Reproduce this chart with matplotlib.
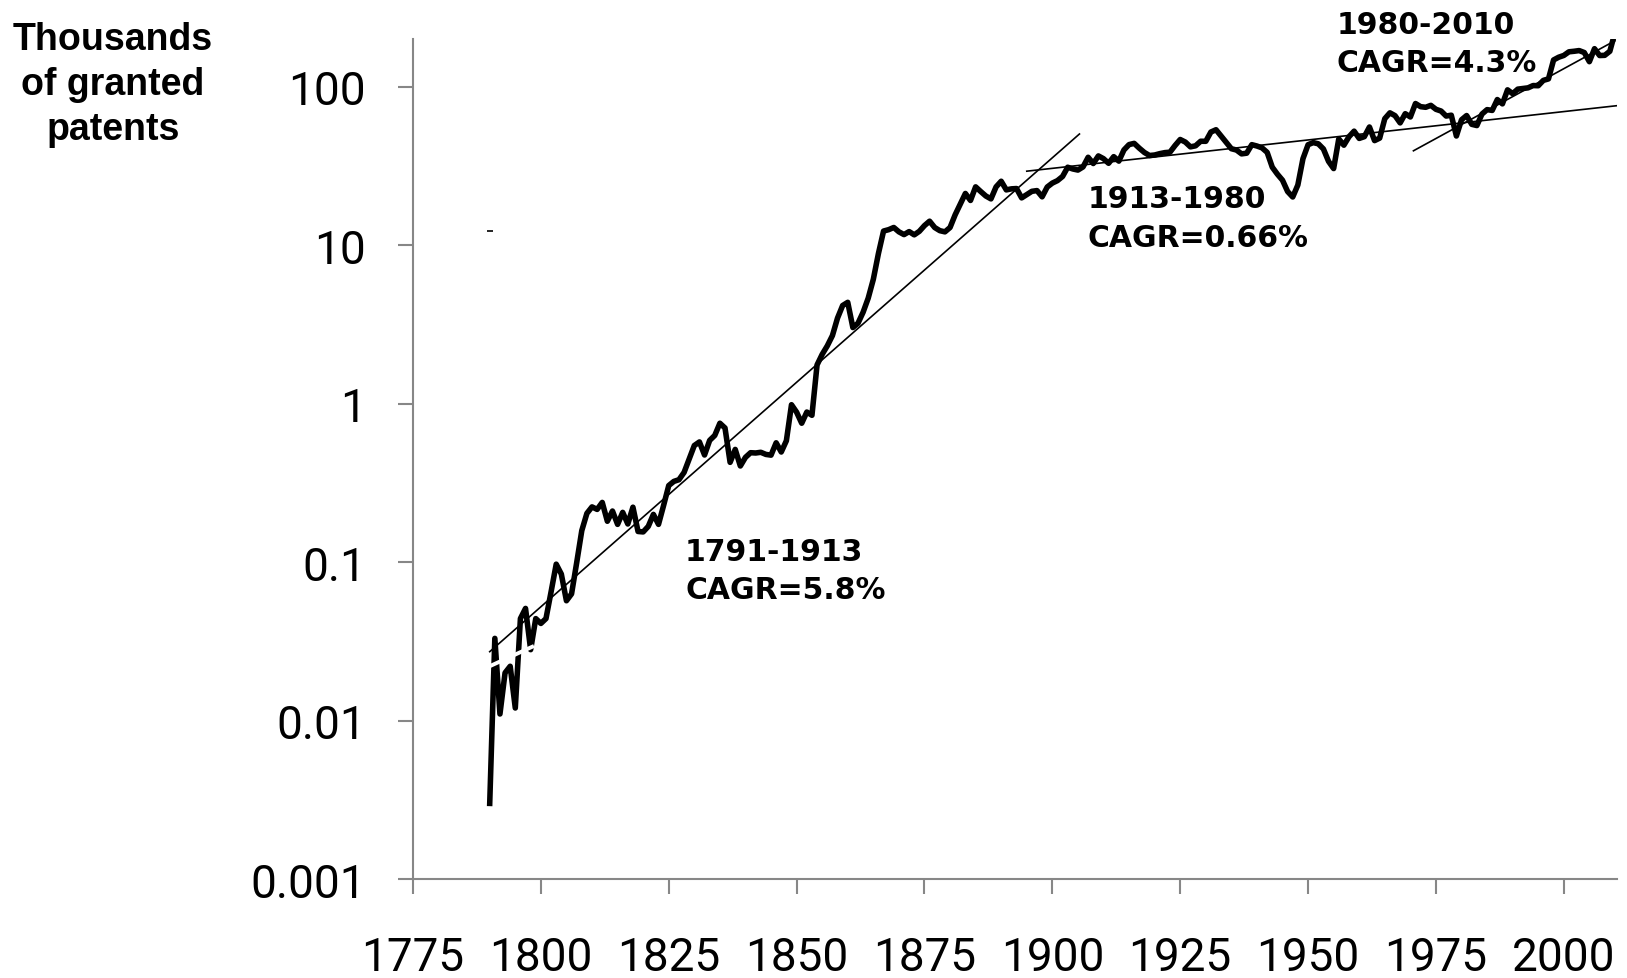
import numpy as np
import matplotlib
matplotlib.use("Agg")
import matplotlib.pyplot as plt
from matplotlib.ticker import FixedLocator, NullLocator

# Granted patents per year (thousands)
years = np.arange(1790, 2011)
patents = [
    0.003, 0.033, 0.011, 0.020, 0.022, 0.012, 0.044, 0.051, 0.028, 0.044,  # 1790s
    0.041, 0.044, 0.065, 0.097, 0.084, 0.057, 0.063, 0.099, 0.158, 0.203,  # 1800s
    0.223, 0.215, 0.238, 0.181, 0.210, 0.173, 0.206, 0.174, 0.222, 0.156,  # 1810s
    0.155, 0.168, 0.200, 0.173, 0.228, 0.304, 0.323, 0.331, 0.368, 0.447,  # 1820s
    0.544, 0.573, 0.474, 0.586, 0.630, 0.752, 0.702, 0.426, 0.514, 0.404,  # 1830s
    0.458, 0.490, 0.488, 0.493, 0.478, 0.473, 0.566, 0.495, 0.583, 0.984,  # 1840s
    0.883, 0.752, 0.885, 0.844, 1.755, 2.046, 2.315, 2.686, 3.467, 4.160,  # 1850s
    4.357, 3.020, 3.214, 3.773, 4.630, 6.088, 8.863, 12.277, 12.526, 12.931,  # 1860s
    12.137, 11.659, 12.180, 11.616, 12.230, 13.291, 14.169, 12.920, 12.345, 12.133,  # 1870s
    12.926, 15.548, 18.135, 21.196, 19.147, 23.331, 21.797, 20.429, 19.585, 23.324,  # 1880s
    25.313, 22.328, 22.661, 22.768, 19.875, 20.856, 21.867, 22.098, 20.188, 23.278,  # 1890s
    24.644, 25.546, 27.136, 31.029, 30.258, 29.775, 31.170, 35.859, 32.757, 36.574,  # 1900s
    35.141, 32.856, 36.198, 33.917, 39.892, 43.118, 43.892, 40.935, 38.452, 36.797,  # 1910s
    37.060, 37.798, 38.369, 38.616, 42.574, 46.432, 44.733, 41.717, 42.357, 45.267,  # 1920s
    45.226, 51.756, 53.504, 48.774, 44.420, 40.618, 39.831, 37.683, 38.061, 43.073,  # 1930s
    42.238, 41.109, 38.514, 31.054, 28.053, 25.695, 21.803, 20.139, 23.963, 35.131,  # 1940s
    43.040, 44.384, 43.616, 40.468, 33.809, 30.432, 46.817, 42.744, 48.330, 52.408,  # 1950s
    47.170, 48.368, 55.691, 45.679, 47.376, 62.857, 68.406, 65.652, 59.104, 67.559,  # 1960s
    64.427, 78.317, 74.810, 74.143, 76.278, 72.000, 70.226, 65.269, 66.102, 48.854,  # 1970s
    61.819, 65.771, 57.888, 56.860, 67.200, 71.661, 70.860, 82.952, 77.924, 95.537,  # 1980s
    90.365, 96.511, 97.444, 98.342, 101.676, 101.419, 109.645, 111.984, 147.517, 153.485,  # 1990s
    157.494, 166.036, 167.331, 169.023, 164.290, 143.806, 173.772, 157.282, 157.772, 167.349,  # 2000s
    219.614,
]

# Fitted trend lines (start, end) as drawn on the chart
trend_1791_1913_x = [1790.0, 1905.3]
trend_1791_1913_y = [0.0272, 50.3]
trend_1913_1980_x = [1895.0, 2010.4]
trend_1913_1980_y = [29.3, 75.9]
trend_1980_2010_x = [1970.6, 2010.0]
trend_1980_2010_y = [39.4, 195.0]

# white stroke crossing the early data and stray tick mark
gap_x = [1790.1, 1798.3]
gap_y = [0.0221, 0.0292]
stray_x = [1790.06]
stray_y = [12.3]

labels = ["1791-1913\nCAGR=5.8%", "1913-1980\nCAGR=0.66%", "1980-2010\nCAGR=4.3%"]
label_x = [1828.2, 1906.9, 1955.6]
label_y = [0.145, 24.3, 306.0]

xticks = list(range(1775, 2001, 25))
yticks = [0.001, 0.01, 0.1, 1, 10, 100]
yticklabels = ["0.001", "0.01", "0.1", "1", "10", "100"]

#%% Plot
fig = plt.figure(figsize=(16.27, 9.79), dpi=100)
ax = fig.add_axes([413 / 1627, 99 / 979, (1617 - 413) / 1627, (880 - 40) / 979])

ax.plot(years, patents, color="black", lw=4.0, solid_joinstyle="round", zorder=3)
for tx, ty in [(trend_1791_1913_x, trend_1791_1913_y),
               (trend_1913_1980_x, trend_1913_1980_y),
               (trend_1980_2010_x, trend_1980_2010_y)]:
    ax.plot(tx, ty, color="black", lw=1.2, zorder=4)
ax.plot(gap_x, gap_y, color="white", lw=2.8, zorder=5)
ax.plot(stray_x, stray_y, marker="_", color="black", ms=4, mew=1.2, ls="none")

for txt, x, y in zip(labels, label_x, label_y):
    ax.text(x, y, txt, fontsize=21.5, fontweight="bold", family="DejaVu Sans",
            ha="left", va="top", linespacing=1.42, clip_on=False, zorder=6)

ax.set_yscale("log")
ax.set_xlim(1775, 2010.4)
ax.set_ylim(0.001, 200)
ax.xaxis.set_major_locator(FixedLocator(xticks))
ax.set_xticklabels([str(t) for t in xticks])
ax.yaxis.set_major_locator(FixedLocator(yticks))
ax.yaxis.set_minor_locator(NullLocator())
ax.set_yticklabels(yticklabels)

for side in ["top", "right"]:
    ax.spines[side].set_visible(False)
for side in ["left", "bottom"]:
    ax.spines[side].set_color("#878787")
    ax.spines[side].set_linewidth(1.5)
ax.tick_params(axis="both", direction="out", length=11, width=1.5, color="#878787",
               labelsize=33, labelfontfamily="Roboto")
ax.tick_params(axis="x", pad=29)
ax.tick_params(axis="y", pad=23)

fig.text(113 / 1627, 1 - 22 / 979, "Thousands\nof granted\npatents", fontsize=27,
         fontweight="bold", family="Liberation Sans", ha="center", va="top",
         multialignment="center", linespacing=1.32)

fig.savefig("out.png", dpi=100)
